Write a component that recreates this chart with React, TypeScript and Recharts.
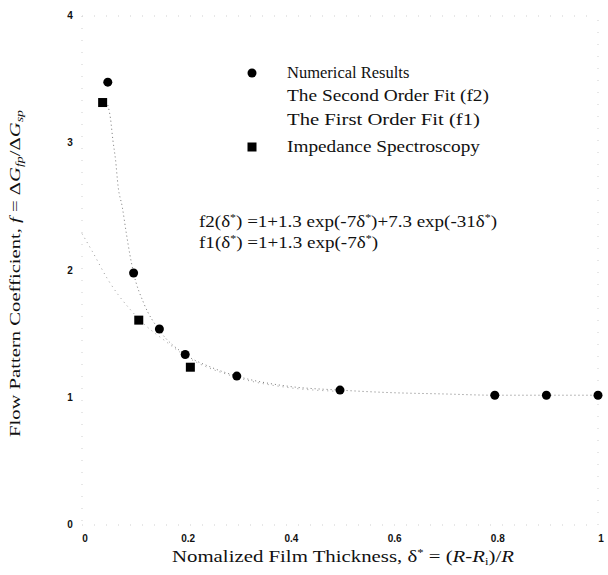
import { ComposedChart, Line, Scatter, XAxis, YAxis, ReferenceLine } from "recharts";

// numerical results (circles)
const numericalX = [0.05, 0.1, 0.15, 0.2, 0.3, 0.5, 0.8, 0.9, 1.0];
const numericalF = [3.48, 1.98, 1.54, 1.34, 1.17, 1.06, 1.02, 1.02, 1.02];

// impedance spectroscopy (squares)
const impedanceX = [0.04, 0.11, 0.21];
const impedanceF = [3.32, 1.61, 1.24];

// second order fit, f2
const fit2X = [0.05, 0.055, 0.06, 0.065, 0.07, 0.078, 0.086, 0.093, 0.1, 0.12, 0.15, 0.2, 0.25, 0.3, 0.4, 0.5, 0.6, 0.7, 0.8, 0.9, 1.0];
const fit2F = [3.3, 3.2, 3.02, 2.87, 2.66, 2.5, 2.29, 2.12, 1.98, 1.74, 1.53, 1.34, 1.24, 1.17, 1.09, 1.06, 1.04, 1.03, 1.02, 1.02, 1.02];

// first order fit, f1
const fit1X = [0, 0.02, 0.05, 0.07, 0.09, 0.12, 0.16, 0.2, 0.3, 0.4, 0.5];
const fit1F = [2.29, 2.15, 1.93, 1.81, 1.71, 1.58, 1.45, 1.33, 1.16, 1.08, 1.05];

const xTicks = [0, 0.2, 0.4, 0.6, 0.8, 1];
const yTicks = [0, 1, 2, 3, 4];

const zip = (xs: number[], ys: number[]) => xs.map((x, i) => ({ x, y: ys[i] }));

const numerical = zip(numericalX, numericalF);
const impedance = zip(impedanceX, impedanceF);
const fit2 = zip(fit2X, fit2F);
const fit1 = zip(fit1X, fit1F);

const serif = "'Liberation Serif', 'Times New Roman', serif";
const sans = "'Liberation Sans', Arial, sans-serif";
const frame = { stroke: "#cfcfcf", strokeDasharray: "1 11" };
const stretch = "spacingAndGlyphs";

const XTick = ({ x, y, payload }: any) => (
  <text x={x + 3} y={y} dy={9} textAnchor="middle" fontFamily={sans} fontWeight="bold" fontSize={10} fill="#111">
    {payload.value}
  </text>
);

const YTick = ({ x, y, payload }: any) => (
  <text x={x - 4} y={y} dy={3} textAnchor="middle" fontFamily={sans} fontWeight="bold" fontSize={10} fill="#111">
    {payload.value}
  </text>
);

const Circle = ({ cx, cy }: any) => <circle cx={cx} cy={cy} r={4.5} fill="#000" />;
const Square = ({ cx, cy }: any) => <rect x={cx - 4.5} y={cy - 4.5} width={9} height={9} fill="#000" />;

export default function App() {
  return (
    <div style={{ position: "absolute", left: 0, top: 0, width: 608, height: 575, background: "#fff" }}>
      <ComposedChart width={608} height={575} margin={{ top: 16, right: 10, bottom: 0, left: 0 }}>
        <XAxis
          type="number"
          dataKey="x"
          domain={[0, 1]}
          ticks={xTicks}
          height={50}
          tickLine={false}
          axisLine={frame}
          tick={<XTick />}
          interval={0}
        />
        <YAxis
          type="number"
          dataKey="y"
          domain={[0, 4]}
          ticks={yTicks}
          width={82}
          tickLine={false}
          axisLine={frame}
          tick={<YTick />}
          interval={0}
        />
        <ReferenceLine x={1} {...frame} />
        <ReferenceLine y={4} {...frame} />
        <Line data={fit1} dataKey="y" type="monotone" stroke="#9a9a9a" strokeWidth={1} strokeDasharray="1 4" dot={false} isAnimationActive={false} />
        <Line data={fit2} dataKey="y" type="monotone" stroke="#777" strokeWidth={1} strokeDasharray="1 3" dot={false} isAnimationActive={false} />
        <Scatter data={numerical} dataKey="y" shape={<Circle />} isAnimationActive={false} />
        <Scatter data={impedance} dataKey="y" shape={<Square />} isAnimationActive={false} />
      </ComposedChart>

      <svg width={608} height={575} style={{ position: "absolute", left: 0, top: 0, pointerEvents: "none" }}>
        {/* legend */}
        <g fontFamily={serif} fontSize={16.5} fill="#111">
          <circle cx={252} cy={73} r={4.5} fill="#000" />
          <text x={287} y={78}>Numerical Results</text>
          <text x={287} y={101} textLength={202} lengthAdjust={stretch}>The Second Order Fit (f2)</text>
          <text x={287} y={125} textLength={193} lengthAdjust={stretch}>The First Order Fit (f1)</text>
          <rect x={247.5} y={142.5} width={9} height={9} fill="#000" />
          <text x={287} y={152} textLength={193} lengthAdjust={stretch}>Impedance Spectroscopy</text>
        </g>

        {/* fit equations */}
        <g fontFamily={serif} fontSize={16} fill="#111">
          <text x={199} y={227} textLength={298} lengthAdjust={stretch}>
            f2(δ<tspan dy={-6} fontSize={10}>*</tspan><tspan dy={6}>) =1+1.3 exp(-7δ</tspan>
            <tspan dy={-6} fontSize={10}>*</tspan><tspan dy={6}>)+7.3 exp(-31δ</tspan>
            <tspan dy={-6} fontSize={10}>*</tspan><tspan dy={6}>)</tspan>
          </text>
          <text x={199} y={248} textLength={179} lengthAdjust={stretch}>
            f1(δ<tspan dy={-6} fontSize={10}>*</tspan><tspan dy={6}>) =1+1.3 exp(-7δ</tspan>
            <tspan dy={-6} fontSize={10}>*</tspan><tspan dy={6}>)</tspan>
          </text>
        </g>

        {/* x axis title */}
        <text x={172} y={562} textLength={342} lengthAdjust={stretch} fontFamily={serif} fontSize={16.5} fill="#111">
          Nomalized Film Thickness, δ<tspan dy={-6} fontSize={10}>*</tspan>
          <tspan dy={6}> = (</tspan><tspan fontStyle="italic">R</tspan>-<tspan fontStyle="italic">R</tspan>
          <tspan dy={3} fontSize={10}>i</tspan><tspan dy={-3}>)/</tspan><tspan fontStyle="italic">R</tspan>
        </text>

        {/* y axis title */}
        <text
          transform="translate(20 437) rotate(-90)"
          textLength={327}
          lengthAdjust={stretch}
          fontFamily={serif}
          fontSize={15}
          fill="#111"
        >
          Flow Pattern Coefficient, <tspan fontStyle="italic">f</tspan> = Δ<tspan fontStyle="italic">G</tspan>
          <tspan dy={3} fontSize={10} fontStyle="italic">fp</tspan><tspan dy={-3}>/Δ</tspan>
          <tspan fontStyle="italic">G</tspan><tspan dy={3} fontSize={10} fontStyle="italic">sp</tspan>
        </text>
      </svg>
    </div>
  );
}
